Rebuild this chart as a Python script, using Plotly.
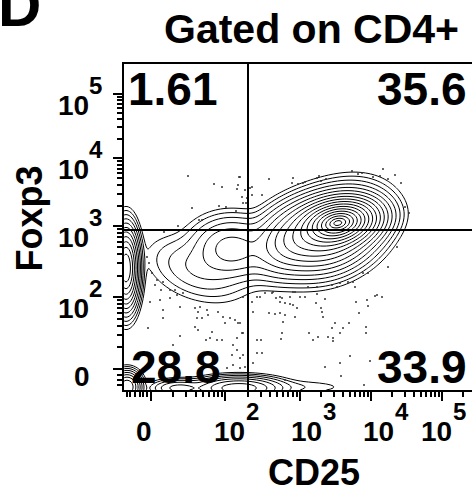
import numpy as np
import plotly.graph_objects as go

# ---------------- data (display channel units, FlowJo-like scale) ----------------
# axis decade tick positions (channels) and labels
x_tick_pos = [81, 303, 528, 741, 954]
x_tick_base = ["0", "10", "10", "10", "10"]
x_tick_exp = ["", "2", "3", "4", "5"]
y_tick_pos = [63, 279, 492, 696, 888]
y_tick_base = ["0", "10", "10", "10", "10"]
y_tick_exp = ["", "2", "3", "4", "5"]
x_neg_minor = [9, 18, 33, 48, 57, 69]
y_neg_minor = [15, 30, 45]

# gates
gate_x = 372
gate_y = 480
quad_pct = ["1.61", "35.6", "28.8", "33.9"]  # UL, UR, LL, LR

# cell populations (gaussian components), channel units; peak = relative peak density
pop_cx = [645, 630, 545, 322, 220, 6, 345, 165, 9, 520]
pop_cy = [503, 475, 465, 424, 362, 366, 6, 6, 9, 9]
pop_sx = [50, 60, 65, 55, 68, 16, 58, 38, 18, 90]
pop_sy = [30, 50, 48, 42, 45, 50, 15, 12, 20, 12]
pop_rho = [0.2, 0.3, 0.35, 0.0, -0.35, 0.0, 0.0, 0.0, 0.0, 0.0]
pop_peak = [1.0, 0.2, 0.15, 0.025, 0.0045, 0.35, 0.05, 0.012, 0.1, 0.0008]

# outlier events (channels)
dots_x = [192, 270, 294, 345, 342, 339, 354, 366, 378, 384, 285, 306, 204, 225, 234, 336, 162, 120,
          435, 507, 504, 522, 537, 543, 585, 579, 591, 606, 684, 702, 714, 747, 768, 777, 813, 792, 831,
          843, 855, 819, 792, 717, 732, 687, 693, 672, 648, 639, 624, 579, 552, 513, 498, 468, 447, 423,
          408, 759, 774, 384, 363, 369, 357, 414, 348, 399,
          444, 456, 474, 507, 528, 543, 579, 603, 468, 483, 498, 507, 519, 576, 591, 594, 597, 435, 453,
          468, 483, 513, 477, 633, 624, 657, 648, 675, 696, 705, 729, 732, 753, 726, 726, 474, 555, 582,
          567, 612, 627, 627, 471, 399, 411, 399, 414, 387, 678, 648, 603, 651, 483, 738, 720, 354, 357,
          357, 384, 387, 348,
          69, 75, 84, 99, 117, 93, 111, 138, 153, 159, 177, 138, 108, 78, 168, 117, 117, 72, 213, 228,
          222, 249, 219, 234, 252, 282, 297, 318, 333, 342, 303, 213, 222, 264, 279, 258, 246, 294, 339,
          327, 168, 147, 357, 324, 339, 348, 327, 309, 348, 363]
dots_y = [642, 618, 609, 639, 615, 603, 579, 561, 606, 585, 552, 549, 546, 510, 510, 537, 492, 474,
          633, 636, 621, 618, 621, 624, 642, 636, 627, 633, 657, 648, 651, 639, 642, 663, 645, 633, 621,
          549, 531, 429, 369, 351, 351, 324, 309, 324, 321, 309, 315, 309, 309, 294, 279, 279, 294, 291,
          279, 285, 279, 609, 600, 576, 561, 585, 639, 279,
          291, 276, 276, 294, 279, 279, 288, 273, 264, 261, 258, 255, 246, 261, 246, 234, 219, 231, 228,
          231, 225, 219, 204, 201, 186, 186, 171, 201, 264, 231, 270, 252, 282, 189, 171, 171, 171, 159,
          150, 159, 156, 147, 153, 150, 150, 111, 111, 81, 102, 81, 69, 42, 30, 87, 15, 171, 105,
          279, 264, 234, 201,
          399, 381, 351, 330, 324, 315, 300, 300, 300, 285, 291, 276, 270, 264, 249, 240, 216, 186, 246, 249,
          234, 240, 216, 216, 225, 234, 219, 216, 210, 201, 201, 189, 180, 174, 150, 156, 150, 150, 156,
          135, 162, 135, 171, 105, 120, 96, 75, 66, 66, 69]

# ---------------- figure geometry ----------------
W, H = 472, 495
L, R, T, B = 124, 472, 64, 390
X_MAX = 1044
Y_MAX = 978

gx = np.arange(0, X_MAX + 1, 3.0)
gy = np.arange(0, Y_MAX + 1, 3.0)
XX, YY = np.meshgrid(gx, gy)
dens = np.zeros_like(XX)
for cx, cy, sx, sy, r, pk in zip(pop_cx, pop_cy, pop_sx, pop_sy, pop_rho, pop_peak):
    dx = (XX - cx) / sx
    dy = (YY - cy) / sy
    q = (dx * dx - 2 * r * dx * dy + dy * dy) / (1 - r * r)
    dens += pk * np.exp(-0.5 * q)

# contour metric: sqrt of decades below the maximum density
z = np.sqrt(np.log10(dens.max() / (dens + 1e-300)))

fig = go.Figure()
fig.add_trace(go.Contour(
    x=gx, y=gy, z=z,
    contours=dict(coloring="none", start=0.104, end=1.88, size=0.104),
    line=dict(color="black", width=1, smoothing=1),
    showscale=False, hoverinfo="skip",
))
fig.add_trace(go.Scatter(
    x=dots_x, y=dots_y, mode="markers",
    marker=dict(size=2, color="#333333", line=dict(width=0)),
    hoverinfo="skip",
))


def minor_ticks(pos, extra):
    out = list(extra)
    for a, b in zip(pos[:-1], pos[1:]):
        for m in range(2, 10):
            out.append(a + np.log10(m) * (b - a))
    return out


x_minor = minor_ticks(x_tick_pos, x_neg_minor)
x_minor.append(x_tick_pos[-1] + np.log10(2) * (x_tick_pos[-1] - x_tick_pos[-2]))
y_minor = minor_ticks(y_tick_pos, y_neg_minor)

FONT = "Liberation Sans, Arial, sans-serif"

fig.update_layout(
    width=W, height=H,
    margin=dict(l=L, r=W - R, t=T, b=H - B),
    paper_bgcolor="white", plot_bgcolor="white",
    showlegend=False,
    xaxis=dict(range=[0, X_MAX], showgrid=False, zeroline=False,
               showline=True, linecolor="black", linewidth=2, mirror=True,
               ticks="outside", tickmode="array", tickvals=x_tick_pos, ticklen=9,
               tickwidth=2, tickcolor="black", showticklabels=False,
               minor=dict(tickmode="array", tickvals=x_minor, ticks="outside",
                          ticklen=5, tickwidth=1.5, tickcolor="black", showgrid=False)),
    yaxis=dict(range=[0, Y_MAX], showgrid=False, zeroline=False,
               showline=True, linecolor="black", linewidth=2, mirror=False,
               ticks="outside", tickmode="array", tickvals=y_tick_pos, ticklen=9,
               tickwidth=2, tickcolor="black", showticklabels=False,
               minor=dict(tickmode="array", tickvals=y_minor, ticks="outside",
                          ticklen=5, tickwidth=1.5, tickcolor="black", showgrid=False)),
)

# quadrant gate lines
fig.add_shape(type="line", x0=gate_x, x1=gate_x, y0=0, y1=Y_MAX, xref="x", yref="y",
              line=dict(color="black", width=2))
fig.add_shape(type="line", x0=0, x1=X_MAX, y0=gate_y, y1=gate_y, xref="x", yref="y",
              line=dict(color="black", width=2))


def px(xp, yp):
    return (xp - L) / (R - L), (B - yp) / (B - T)


def ann(text, x, y, size, xanchor="center", yanchor="middle", xref="paper", yref="paper",
        xshift=0, yshift=0, angle=0):
    fig.add_annotation(text=text, x=x, y=y, xref=xref, yref=yref, xanchor=xanchor,
                       yanchor=yanchor, xshift=xshift, yshift=yshift, textangle=angle,
                       showarrow=False, borderpad=0, borderwidth=0,
                       font=dict(family=FONT, size=size, color="black", weight="bold"))


# x tick labels
x_shift = [-7, 4, 6, 7, -6]
for pos, base, ex, s in zip(x_tick_pos, x_tick_base, x_tick_exp, x_shift):
    ann(base, pos, 0, 28, xref="x", yref="paper", xshift=s, yshift=-41)
    if ex:
        ann(ex, pos, 0, 24, xanchor="left", xref="x", yref="paper", xshift=s + 17, yshift=-21)

# y tick labels
for pos, base, ex in zip(y_tick_pos, y_tick_base, y_tick_exp):
    if ex:
        ann(base, 0, pos, 28, xanchor="right", xref="paper", yref="y", xshift=-35, yshift=-11)
        ann(ex, 0, pos, 24, xanchor="left", xref="paper", yref="y", xshift=-35, yshift=8.5)
    else:
        ann(base, 0, pos, 28, xanchor="right", xref="paper", yref="y", xshift=-34, yshift=-7)

# quadrant percentages
x0, y0 = px(128, 88.5)
ann(quad_pct[0], x0, y0, 46, xanchor="left")
x0, y0 = px(467, 88.5)
ann(quad_pct[1], x0, y0, 46, xanchor="right")
x0, y0 = px(130.5, 366.5)
ann(quad_pct[2], x0, y0, 46, xanchor="left")
x0, y0 = px(467, 366.5)
ann(quad_pct[3], x0, y0, 46, xanchor="right")

# titles
x0, y0 = px(311.5, 29)
ann("Gated on CD4+", x0, y0, 41)
x0, y0 = px(20, 5.5)
ann("D", x0, y0, 60)
x0, y0 = px(313.5, 472.5)
ann("CD25", x0, y0, 36)
x0, y0 = px(28.5, 219)
ann("Foxp3", x0, y0, 36, angle=-90)

fig.write_html("out.html", post_script="document.body.style.margin='0';",
               config={"displayModeBar": False})
